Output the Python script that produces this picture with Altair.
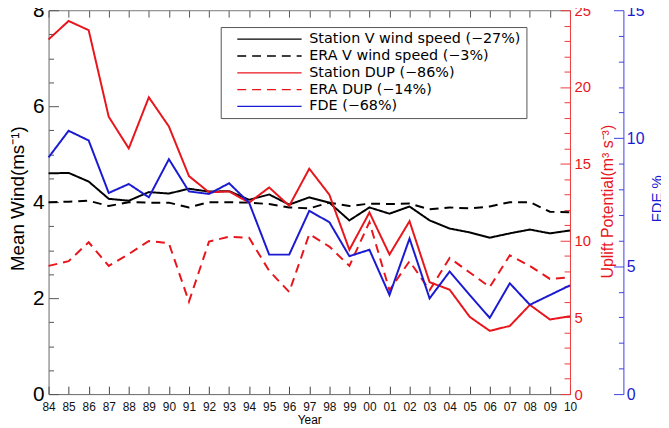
import altair as alt
import pandas as pd

years = list(range(1984, 2011))

station_v_wind = [4.60, 4.61, 4.43, 4.07, 4.03, 4.21, 4.18, 4.28, 4.22, 4.23, 4.05, 4.16, 3.95, 4.10,
                  3.99, 3.62, 3.89, 3.76, 3.91, 3.62, 3.45, 3.37, 3.26, 3.35, 3.43, 3.35, 3.41]
era_v_wind = [4.00, 4.01, 4.03, 3.92, 4.00, 3.99, 3.99, 3.89, 4.00, 4.00, 3.99, 3.96, 3.89, 3.87,
              3.99, 3.92, 3.97, 3.96, 3.97, 3.85, 3.89, 3.87, 3.91, 4.00, 4.00, 3.80, 3.79]
station_dup = [23.1, 24.3, 23.7, 18.06, 16.0, 19.33, 17.43, 14.2, 13.14, 13.2, 12.47, 13.46, 12.26, 14.68,
               12.99, 9.4, 11.83, 9.09, 11.26, 7.29, 6.8, 5.03, 4.12, 4.44, 5.81, 4.86, 5.07]
era_dup = [8.35, 8.66, 9.89, 8.35, 9.12, 9.97, 9.82, 6.02, 9.93, 10.25, 10.18, 8.03, 6.65, 10.42,
           9.61, 8.35, 11.2, 6.76, 8.66, 6.76, 8.87, 7.92, 6.97, 9.04, 8.35, 7.5, 7.6]
fde = [9.25, 10.29, 9.91, 7.86, 8.21, 7.69, 9.18, 7.92, 7.82, 8.24, 7.48, 5.45, 5.45, 7.16,
       6.72, 5.39, 5.64, 3.87, 6.08, 3.74, 4.79, 3.87, 2.98, 4.33, 3.49, 3.87, 4.25]

series_names = ["Station V wind speed (\u221227%)", "ERA V wind speed (\u22123%)",
                "Station DUP (\u221286%)", "ERA DUP (\u221214%)", "FDE (\u221268%)"]
series_colors = ["#000000", "#000000", "#e8161c", "#e8161c", "#1a1ad2"]
series_dashes = [[1, 0], [9, 6], [1, 0], [9, 6], [1, 0]]

RED = "#e8161c"
RED_AX = "#ee3a3a"
BLUE = "#1a1ad2"
BLUE_AX = "#4040e0"
FONT = "Liberation Sans"


def frame(pairs):
    rows = []
    for name, vals in pairs:
        for y, v in zip(years, vals):
            rows.append({"year": y, "value": v, "series": name})
    return pd.DataFrame(rows)


wind_df = frame([(series_names[0], station_v_wind), (series_names[1], era_v_wind)])
dup_df = frame([(series_names[2], station_dup), (series_names[3], era_dup)])
fde_df = frame([(series_names[4], fde)])

x_dom = alt.Scale(domain=[1984, 2010], nice=False, zero=False)

legend = alt.Legend(
    title=None, orient="none", legendX=174, legendY=17, direction="vertical",
    fillColor="white", strokeColor="#555555", padding=5, rowPadding=2,
    labelFont="DejaVu Sans", labelFontSize=14.5, labelColor="black", labelOffset=70,
    labelLimit=400,
    symbolType="M0.9,0H13.9", symbolSize=100, symbolStrokeWidth=1.3,
)

color_enc = alt.Color("series:N", scale=alt.Scale(domain=series_names, range=series_colors), legend=legend)
dash_enc = alt.StrokeDash("series:N", scale=alt.Scale(domain=series_names, range=series_dashes), legend=legend)

x_bottom = alt.X("year:Q", scale=x_dom, axis=alt.Axis(
    orient="bottom", values=years, labelExpr="format(datum.value % 100, '02d')",
    labelOverlap=False, labelFlush=False, labelFont=FONT, labelFontSize=12, labelColor="#111111",
    labelPadding=16, tickSize=alt.ExprRef(expr="-8"), tickColor="#444444", domainColor="#666666",
    grid=False, title="Year", titleFont=FONT, titleFontSize=12, titleFontWeight="normal",
    titleY=21, titleBaseline="top"))

x_top = alt.X("year:Q", scale=x_dom, axis=alt.Axis(
    orient="top", values=years, labels=False, tickSize=alt.ExprRef(expr="-7"),
    tickColor="#555555", domainColor="#777777", grid=False, title=None))

x_none = alt.X("year:Q", scale=x_dom, axis=None)

wind = alt.Chart(wind_df).mark_line(strokeWidth=2).encode(
    x=x_bottom,
    y=alt.Y("value:Q", scale=alt.Scale(domain=[0, 8], nice=False), axis=alt.Axis(
        orient="left", values=[i * 0.5 for i in range(17)],
        labelExpr="datum.value % 2 === 0 ? format(datum.value, 'd') : ''",
        tickSize=alt.ExprRef(expr="datum.value % 2 === 0 ? -10 : -5"),
        labelPadding=14.5, labelFont=FONT, labelFontSize=21, labelColor="black",
        tickColor="#555555", domainColor="#666666", grid=False,
        title="Mean Wind(ms\u207b\u00b9)", titleFont=FONT, titleFontSize=19, titleFontWeight="normal",
        titleAngle=270, titleX=-31, titleY=190, titleAlign="center", titleBaseline="middle")),
    color=color_enc, strokeDash=dash_enc, detail="series:N",
)

dup = alt.Chart(dup_df).mark_line(strokeWidth=2).encode(
    x=x_none,
    y=alt.Y("value:Q", scale=alt.Scale(domain=[0, 25], nice=False), axis=alt.Axis(
        orient="right", values=list(range(26)),
        labelExpr="datum.value % 5 === 0 ? format(datum.value, 'd') : ''",
        tickSize=alt.ExprRef(expr="datum.value % 5 === 0 ? -10 : -6"),
        labelPadding=14, labelFont=FONT, labelFontSize=15, labelColor=RED,
        tickColor=RED_AX, domainColor=RED_AX, grid=False,
        title="Uplift Potential(m\u00b3 s\u207b\u00b3)", titleFont=FONT, titleFontSize=16,
        titleFontWeight="normal", titleColor=RED,
        titleAngle=270, titleX=38, titleY=193, titleAlign="center", titleBaseline="middle")),
    color=color_enc, strokeDash=dash_enc, detail="series:N",
)

fde_line = alt.Chart(fde_df).mark_line(strokeWidth=2).encode(
    x=x_top,
    y=alt.Y("value:Q", scale=alt.Scale(domain=[0, 15], nice=False), axis=alt.Axis(
        orient="right", offset=54, values=list(range(16)),
        labelExpr="datum.value % 5 === 0 ? format(datum.value, 'd') : ''",
        tickSize=alt.ExprRef(expr="datum.value % 5 === 0 ? -10 : -5"),
        labelPadding=13, labelFont=FONT, labelFontSize=16, labelColor=BLUE,
        tickColor=BLUE_AX, domainColor=BLUE_AX, grid=False,
        title="FDE %", titleFont=FONT, titleFontSize=15, titleFontWeight="normal", titleColor=BLUE,
        titleAngle=270, titleX=34, titleY=190, titleAlign="center", titleBaseline="middle")),
    color=color_enc, strokeDash=dash_enc,
)

chart = alt.layer(wind, dup, fde_line).resolve_scale(
    x="independent", y="independent"
).properties(
    width=527, height=388,
    autosize=alt.AutoSizeParams(type="none"),
    padding={"left": 41, "top": 0, "right": 92, "bottom": 32},
    background="white",
).configure_view(stroke=None)

chart.save("out.html", embed_options={"renderer": "svg", "actions": False})
